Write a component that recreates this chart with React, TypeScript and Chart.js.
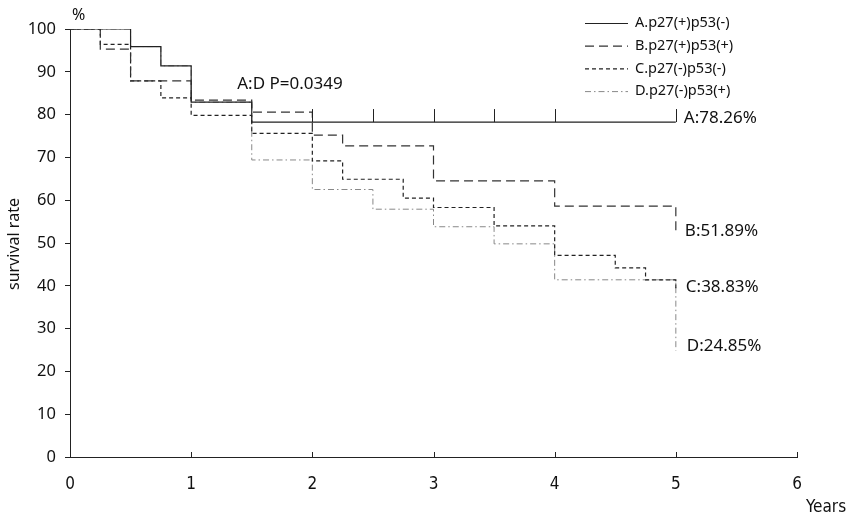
import { useEffect, useRef } from "react";
import { Chart, registerables } from "chart.js";
Chart.register(...registerables);

const seriesLabels = ["A.p27(+)p53(-)", "B.p27(+)p53(+)", "C.p27(-)p53(-)", "D.p27(-)p53(+)"];

const timesA = [0, 0.5, 0.75, 1.0, 1.5, 5.0];
const survA = [100, 95.9, 91.4, 82.9, 78.26, 78.26];

const timesB = [0, 0.25, 0.5, 1.0, 1.5, 2.0, 2.25, 3.0, 4.0, 5.0];
const survB = [100, 95.3, 87.9, 83.4, 80.6, 75.2, 72.7, 64.5, 58.6, 51.89];

const timesC = [0, 0.25, 0.5, 0.75, 1.0, 1.5, 2.0, 2.25, 2.75, 3.0, 3.5, 4.0, 4.5, 4.75, 5.0];
const survC = [100, 96.4, 87.9, 83.9, 79.8, 75.6, 69.2, 64.9, 60.5, 58.3, 54.0, 47.1, 44.2, 41.4, 38.83];

const timesD = [0, 0.5, 0.75, 1.0, 1.5, 2.0, 2.5, 3.0, 3.5, 4.0, 5.0];
const survD = [100, 95.9, 91.4, 82.9, 69.4, 62.5, 57.9, 53.8, 49.8, 41.4, 24.85];

const censorA = [2, 2.5, 3, 3.5, 4, 5];

const endLabels = ["A:78.26%", "B:51.89%", "C:38.83%", "D:24.85%"];
const endValues = [78.26, 51.89, 38.83, 24.85];
const endTime = 5;

const pValueText = "A:D P=0.0349";
const pValueAt = { x: 1.38, y: 87 };

const xTickValues = [0, 1, 2, 3, 4, 5, 6];
const yTickValues = [0, 10, 20, 30, 40, 50, 60, 70, 80, 90, 100];

const FONT = "'Noto Sans', 'Open Sans', sans-serif";
const NARROW = "'Liberation Sans Narrow', 'DejaVu Sans Condensed', 'Noto Sans', sans-serif";

function survAt(times: number[], surv: number[], t: number) {
  let v = surv[0];
  for (let i = 0; i < times.length; i++) if (times[i] <= t) v = surv[i];
  return v;
}

const styles = [
  { color: "#222", dash: [] as number[], width: 1.2 },
  { color: "#333", dash: [9, 5], width: 1.2 },
  { color: "#222", dash: [4, 3], width: 1.2 },
  { color: "#888", dash: [6, 3, 1.5, 3], width: 1 },
];

const decorPlugin = {
  id: "decor",
  afterDraw(chart: any) {
    const { ctx, chartArea } = chart;
    const xs = chart.scales.x;
    const ys = chart.scales.y;
    ctx.save();
    ctx.strokeStyle = "#222";
    ctx.lineWidth = 1;
    ctx.setLineDash([]);
    for (const v of xTickValues) {
      if (v === 0) continue;
      const px = Math.round(xs.getPixelForValue(v)) + 0.5;
      ctx.beginPath();
      ctx.moveTo(px, chartArea.bottom);
      ctx.lineTo(px, chartArea.bottom - 5);
      ctx.stroke();
    }
    for (const t of censorA) {
      const px = Math.round(xs.getPixelForValue(t)) + 0.5;
      const py = ys.getPixelForValue(survAt(timesA, survA, t));
      ctx.beginPath();
      ctx.moveTo(px, py);
      ctx.lineTo(px, py - 13);
      ctx.stroke();
    }
    ctx.fillStyle = "#111";
    ctx.textBaseline = "middle";
    ctx.textAlign = "left";
    ctx.font = `17px ${FONT}`;
    ctx.fillText(pValueText, xs.getPixelForValue(pValueAt.x), ys.getPixelForValue(pValueAt.y));
    endLabels.forEach((lab, i) => {
      ctx.fillText(lab, xs.getPixelForValue(endTime) + 8 + i, ys.getPixelForValue(endValues[i]) - 4);
    });
    ctx.font = `16px ${FONT}`;
    ctx.fillText("%", chartArea.left + 2, chartArea.top - 14);
    ctx.font = `17px ${NARROW}`;
    ctx.fillText("Years", chartArea.right + 9, chartArea.bottom + 51);
    ctx.save();
    ctx.font = `16px ${FONT}`;
    ctx.translate(14, (chartArea.top + chartArea.bottom) / 2 + 1);
    ctx.rotate(-Math.PI / 2);
    ctx.textAlign = "center";
    ctx.fillText("survival rate", 0, 0);
    ctx.restore();
    ctx.font = `14.5px ${FONT}`;
    datasetsInLegendOrder(chart).forEach((ds: any, i: number) => {
      const y = 23 + i * 22.7;
      const x0 = chartArea.right - 212;
      ctx.strokeStyle = ds.borderColor;
      ctx.lineWidth = ds.borderWidth;
      ctx.setLineDash(ds.borderDash || []);
      ctx.beginPath();
      ctx.moveTo(x0, y + 0.5);
      ctx.lineTo(x0 + 43, y + 0.5);
      ctx.stroke();
      ctx.fillStyle = "#111";
      ctx.fillText(ds.label, x0 + 50, y);
    });
    ctx.restore();
  },
};

function datasetsInLegendOrder(chart: any) {
  return seriesLabels.map((l) => chart.data.datasets.find((d: any) => d.label === l));
}

export default function App() {
  const ref = useRef<HTMLCanvasElement>(null);
  useEffect(() => {
    document.body.style.margin = "0";
    const series = [
      [timesA, survA],
      [timesB, survB],
      [timesC, survC],
      [timesD, survD],
    ];
    const datasets = series.map(([t, s], i) => ({
      label: seriesLabels[i],
      data: t.map((x, j) => ({ x, y: s[j] })),
      borderColor: styles[i].color,
      borderDash: styles[i].dash,
      borderWidth: styles[i].width,
      stepped: true,
      pointRadius: 0,
      fill: false,
    }));
    const chart = new Chart(ref.current!, {
      type: "line",
      data: { datasets: datasets as any },
      options: {
        animation: false,
        responsive: false,
        layout: { padding: { top: 29, right: 52, left: 0, bottom: 0 } },
        plugins: { legend: { display: false }, tooltip: { enabled: false } },
        scales: {
          x: {
            type: "linear",
            min: 0,
            max: 6,
            afterBuildTicks: (s: any) => {
              s.ticks = xTickValues.map((v) => ({ value: v }));
            },
            afterFit: (s: any) => {
              s.height = 68;
            },
            grid: { display: false, drawTicks: false },
            border: { display: true, color: "#222", width: 1 },
            ticks: { padding: 17, color: "#111", font: { family: NARROW, size: 17 } },
          },
          y: {
            min: 0,
            max: 100,
            afterBuildTicks: (s: any) => {
              s.ticks = yTickValues.map((v) => ({ value: v }));
            },
            afterFit: (s: any) => {
              s.width = 70;
            },
            grid: { drawOnChartArea: false, drawTicks: true, tickLength: 5, color: "#222" },
            border: { display: true, color: "#222", width: 1 },
            ticks: { padding: 9, color: "#111", font: { family: FONT, size: 16.5 } },
          },
        },
      },
      plugins: [decorPlugin],
    });
    return () => chart.destroy();
  }, []);
  return (
    <div style={{ width: 849, height: 525, background: "#fff" }}>
      <canvas ref={ref} width={849} height={525} />
    </div>
  );
}
